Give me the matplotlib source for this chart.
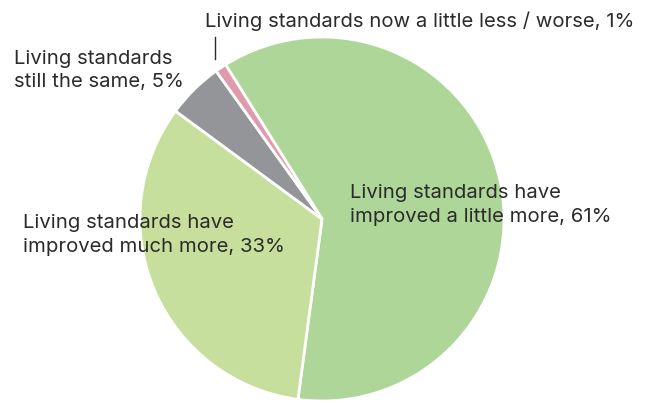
import matplotlib.pyplot as plt

# survey answers, drawn clockwise from the top-left
labels = ['Living standards have\nimproved a little more, 61%',
          'Living standards have\nimproved much more, 33%',
          'Living standards\nstill the same, 5%',
          'Living standards now a little less / worse, 1%']
shares = [61, 33, 5, 1]
colors = ['#aed698', '#c6df9c', '#939598', '#e09aac']

W, H = 648, 403
fig = plt.figure(figsize=(W / 100, H / 100), dpi=100)
plt.rcParams['font.family'] = ['Inter', 'DejaVu Sans']

# pie centre at (322, 219) px from top-left, radius 182 px
cx, cy, r = 322, 219, 182
ax = fig.add_axes([(cx - r) / W, (H - cy - r) / H, 2 * r / W, 2 * r / H])
ax.pie(shares, colors=colors, startangle=122, counterclock=False,
       wedgeprops=dict(edgecolor='white', linewidth=2))
ax.set_xlim(-1, 1)
ax.set_ylim(-1, 1)
ax.axis('off')


def px_text(x, y, s, step=24):
    # y is the first line's baseline in pixels from the top
    for i, line in enumerate(s.split('\n')):
        fig.text(x / W, 1 - (y + i * step) / H, line, fontsize=14.6,
                 color='#2b2b2b', va='baseline', ha='left')


px_text(350, 198, labels[0])
px_text(23, 228, labels[1])
px_text(14, 64, labels[2], step=23)
px_text(205, 27, labels[3])

# leader line for the small slice
fig.add_artist(plt.Line2D([215 / W, 215 / W], [1 - 37 / H, 1 - 59 / H],
                          color='#2b2b2b', linewidth=1))

fig.savefig('out.png', dpi=100, facecolor='white')
